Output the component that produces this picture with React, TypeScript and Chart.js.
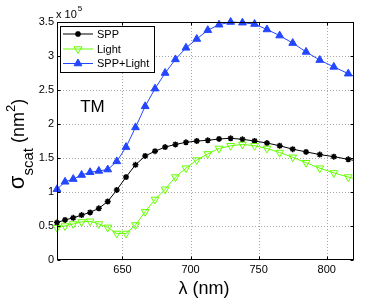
import React, { useEffect, useRef } from 'react';
import { Chart, registerables } from 'chart.js';

Chart.register(...registerables);

// Wavelength samples (nm)
const wavelengthNm = [
  601.94, 607.84, 613.86, 620.0, 626.26, 632.65, 639.18, 645.83, 652.63, 659.57,
  666.67, 673.91, 681.32, 688.89, 696.63, 704.55, 712.64, 720.93, 729.41, 738.1,
  746.99, 756.1, 765.43, 775.0, 784.81, 794.87, 805.19, 815.79, 826.67,
];
// Scattering cross sections, in units of 1e5 nm^2
const sppValues = [
  0.55, 0.59, 0.62, 0.66, 0.7, 0.76, 0.86, 1.03, 1.22, 1.4,
  1.53, 1.6, 1.66, 1.7, 1.73, 1.75, 1.76, 1.78, 1.79, 1.775,
  1.75, 1.72, 1.68, 1.63, 1.59, 1.55, 1.52, 1.48, 1.44,
];
const lightValues = [
  0.475, 0.5, 0.53, 0.56, 0.57, 0.53, 0.48, 0.39, 0.39, 0.515,
  0.71, 0.89, 1.04, 1.22, 1.35, 1.47, 1.56, 1.64, 1.68, 1.7,
  1.68, 1.64, 1.58, 1.51, 1.43, 1.35, 1.28, 1.22, 1.16,
];
const sppLightValues = [
  1.04, 1.15, 1.19, 1.25, 1.29, 1.31, 1.33, 1.45, 1.66, 1.95,
  2.26, 2.52, 2.75, 2.95, 3.12, 3.25, 3.38, 3.46, 3.5, 3.49,
  3.47, 3.39, 3.3, 3.19, 3.06, 2.94, 2.84, 2.74, 2.64,
];
const seriesNames = ['SPP', 'Light', 'SPP+Light'];
const xTicks = [650, 700, 750, 800];
const yTicks = [0, 0.5, 1, 1.5, 2, 2.5, 3, 3.5];
const X_MIN = 601.94;
const X_MAX = 820;
const Y_MIN = 0;
const Y_MAX = 3.5;

const FONT = '"Liberation Sans", Arial, Helvetica, sans-serif';
const BLACK = '#000000';
const GREEN = '#66ff00';
const BLUE = '#2347ff';

type MarkerKind = 'star' | 'triUp' | 'triDown';

function drawMarker(ctx: CanvasRenderingContext2D, kind: MarkerKind, x: number, y: number, color: string) {
  ctx.save();
  ctx.strokeStyle = color;
  ctx.fillStyle = color;
  ctx.setLineDash([]);
  if (kind === 'star') {
    const r = 3;
    ctx.lineWidth = 1.5;
    ctx.beginPath();
    for (let k = 0; k < 4; k++) {
      const a = (k * Math.PI) / 4;
      ctx.moveTo(x - Math.cos(a) * r, y - Math.sin(a) * r);
      ctx.lineTo(x + Math.cos(a) * r, y + Math.sin(a) * r);
    }
    ctx.stroke();
  } else {
    const r = 4.5;
    const base = kind === 'triUp' ? 0 : Math.PI;
    ctx.lineWidth = 1;
    ctx.beginPath();
    for (let k = 0; k < 3; k++) {
      const a = base + (k * 2 * Math.PI) / 3;
      const px = x + Math.sin(a) * r;
      const py = y - Math.cos(a) * r;
      if (k === 0) ctx.moveTo(px, py);
      else ctx.lineTo(px, py);
    }
    ctx.closePath();
    if (kind === 'triUp') ctx.fill();
    ctx.stroke();
  }
  ctx.restore();
}

const decorPlugin = {
  id: 'matlabDecor',
  beforeDatasetsDraw(chart: any) {
    const { ctx, chartArea } = chart;
    const xs = chart.scales.x;
    const ys = chart.scales.y;
    ctx.save();
    ctx.strokeStyle = '#a8a8a8';
    ctx.lineWidth = 1;
    ctx.setLineDash([1, 2]);
    for (const v of xTicks) {
      const px = Math.round(xs.getPixelForValue(v)) + 0.5;
      ctx.beginPath();
      ctx.moveTo(px, chartArea.top);
      ctx.lineTo(px, chartArea.bottom);
      ctx.stroke();
    }
    for (const v of yTicks) {
      if (v === Y_MIN || v === Y_MAX) continue;
      const py = Math.round(ys.getPixelForValue(v)) + 0.5;
      ctx.beginPath();
      ctx.moveTo(chartArea.left, py);
      ctx.lineTo(chartArea.right, py);
      ctx.stroke();
    }
    ctx.restore();
  },
  afterDatasetsDraw(chart: any) {
    const { ctx, chartArea } = chart;
    const xs = chart.scales.x;
    const ys = chart.scales.y;
    const L = Math.round(chartArea.left) + 0.5;
    const R = Math.round(chartArea.right) - 0.5;
    const T = Math.round(chartArea.top) + 0.5;
    const B = Math.round(chartArea.bottom) - 0.5;
    ctx.save();
    ctx.strokeStyle = BLACK;
    ctx.lineWidth = 1;
    ctx.setLineDash([]);
    ctx.strokeRect(L, T, R - L, B - T);
    const tl = 3;
    ctx.beginPath();
    for (const v of xTicks) {
      const px = Math.round(xs.getPixelForValue(v)) + 0.5;
      ctx.moveTo(px, B);
      ctx.lineTo(px, B - tl);
      ctx.moveTo(px, T);
      ctx.lineTo(px, T + tl);
    }
    for (const v of yTicks) {
      const py = Math.round(ys.getPixelForValue(v)) + 0.5;
      ctx.moveTo(L, py);
      ctx.lineTo(L + tl, py);
      ctx.moveTo(R, py);
      ctx.lineTo(R - tl, py);
    }
    ctx.stroke();
    ctx.restore();
  },
  afterDraw(chart: any) {
    const { ctx } = chart;
    ctx.save();
    ctx.fillStyle = BLACK;
    ctx.textBaseline = 'alphabetic';

    // legend box
    const bx = 60.5, by = 26.5, bw = 94, bh = 46;
    ctx.fillStyle = '#ffffff';
    ctx.fillRect(bx, by, bw, bh);
    ctx.strokeStyle = BLACK;
    ctx.lineWidth = 1;
    ctx.strokeRect(bx, by, bw, bh);
    const rows = [34, 49, 63.5];
    const colors = [BLACK, GREEN, BLUE];
    const kinds: MarkerKind[] = ['star', 'triDown', 'triUp'];
    for (let i = 0; i < 3; i++) {
      const ry = rows[i];
      ctx.strokeStyle = colors[i];
      ctx.lineWidth = 1;
      ctx.beginPath();
      ctx.moveTo(63, ry);
      ctx.lineTo(93, ry);
      ctx.stroke();
      drawMarker(ctx, kinds[i], 78, ry, colors[i]);
      ctx.fillStyle = BLACK;
      ctx.font = `11px ${FONT}`;
      ctx.textAlign = 'left';
      ctx.textBaseline = 'middle';
      ctx.fillText(seriesNames[i], 97, ry + 0.5);
    }

    // exponent label
    ctx.textBaseline = 'alphabetic';
    ctx.textAlign = 'left';
    ctx.fillStyle = BLACK;
    ctx.font = `11px ${FONT}`;
    ctx.fillText('x 10', 56, 18);
    const w10 = ctx.measureText('x 10').width;
    ctx.font = `8px ${FONT}`;
    ctx.fillText('5', 56 + w10 + 1, 11);

    // TM annotation
    ctx.font = `17px ${FONT}`;
    ctx.textAlign = 'center';
    ctx.fillText('TM', 92.5, 112);

    // x title
    ctx.font = `18px ${FONT}`;
    ctx.textAlign = 'center';
    ctx.fillText('λ (nm)', 204, 293.5);

    // y title (rotated), with subscript and superscript
    const segs = [
      { t: 'σ', size: 22, dy: 0 },
      { t: 'scat', size: 15, dy: 8.5 },
      { t: ' (nm', size: 18, dy: 0 },
      { t: '2', size: 13, dy: -9 },
      { t: ')', size: 18, dy: 0 },
    ];
    let total = 0;
    const widths: number[] = [];
    for (const s of segs) {
      ctx.font = `${s.size}px ${FONT}`;
      const w = ctx.measureText(s.t).width;
      widths.push(w);
      total += w;
    }
    ctx.translate(24, 144);
    ctx.rotate(-Math.PI / 2);
    ctx.textAlign = 'left';
    let cx = -total / 2;
    segs.forEach((s, i) => {
      ctx.font = `${s.size}px ${FONT}`;
      ctx.fillText(s.t, cx, s.dy);
      cx += widths[i];
    });
    ctx.restore();
  },
};

export default function App() {
  const canvasRef = useRef<HTMLCanvasElement | null>(null);

  useEffect(() => {
    const canvas = canvasRef.current;
    if (!canvas) return;
    const clip = { left: 8, top: 8, right: 0, bottom: 8 };
    const toPoints = (vals: number[]) => wavelengthNm.map((x, i) => ({ x, y: vals[i] }));
    const chart = new Chart(canvas, {
      type: 'line',
      data: {
        datasets: [
          {
            label: seriesNames[0],
            data: toPoints(sppValues),
            borderColor: BLACK,
            backgroundColor: BLACK,
            borderWidth: 1,
            pointStyle: 'star',
            pointRadius: 3,
            pointBorderWidth: 1.5,
            pointBorderColor: BLACK,
            tension: 0,
            clip,
            order: 3,
          },
          {
            label: seriesNames[1],
            data: toPoints(lightValues),
            borderColor: GREEN,
            backgroundColor: 'rgba(0,0,0,0)',
            borderWidth: 1,
            pointStyle: 'triangle',
            rotation: 180,
            pointRadius: 4.5,
            pointBorderWidth: 1,
            pointBorderColor: GREEN,
            pointBackgroundColor: 'rgba(0,0,0,0)',
            tension: 0,
            clip,
            order: 2,
          },
          {
            label: seriesNames[2],
            data: toPoints(sppLightValues),
            borderColor: BLUE,
            backgroundColor: BLUE,
            borderWidth: 1,
            pointStyle: 'triangle',
            pointRadius: 4.5,
            pointBorderWidth: 1,
            pointBorderColor: BLUE,
            pointBackgroundColor: BLUE,
            tension: 0,
            clip,
            order: 1,
          },
        ],
      },
      options: {
        responsive: false,
        animation: false,
        devicePixelRatio: 1,
        events: [],
        layout: { padding: { left: 0, top: 22, right: 37, bottom: 0 } },
        plugins: {
          legend: { display: false },
          tooltip: { enabled: false },
          title: { display: false },
        },
        scales: {
          x: {
            type: 'linear',
            min: X_MIN,
            max: X_MAX,
            grid: { display: false, drawTicks: false },
            border: { display: false },
            ticks: {
              font: { family: FONT, size: 11 },
              color: BLACK,
              padding: 3,
              autoSkip: false,
              maxRotation: 0,
              callback: (v: any) => String(v),
            },
            afterBuildTicks: (s: any) => {
              s.ticks = xTicks.map((v) => ({ value: v }));
            },
            afterFit: (s: any) => {
              s.height = 39;
            },
          },
          y: {
            type: 'linear',
            min: Y_MIN,
            max: Y_MAX,
            grid: { display: false, drawTicks: false },
            border: { display: false },
            ticks: {
              font: { family: FONT, size: 11 },
              color: BLACK,
              padding: 3,
              autoSkip: false,
              callback: (v: any) => String(v),
            },
            afterBuildTicks: (s: any) => {
              s.ticks = yTicks.map((v) => ({ value: v }));
            },
            afterFit: (s: any) => {
              s.width = 57;
            },
          },
        },
      },
      plugins: [decorPlugin],
    });
    return () => chart.destroy();
  }, []);

  return (
    <div style={{ position: 'fixed', left: 0, top: 0, width: 391, height: 299, background: '#ffffff' }}>
      <canvas ref={canvasRef} width={391} height={299} style={{ display: 'block' }} />
    </div>
  );
}
